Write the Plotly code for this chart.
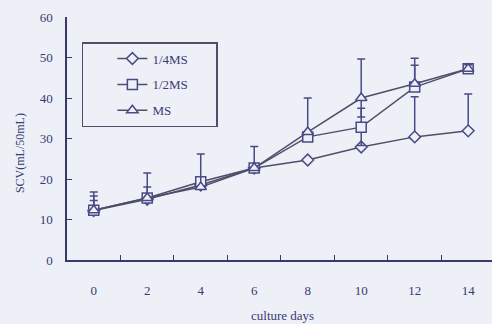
import plotly.graph_objects as go

days = [0, 2, 4, 6, 8, 10, 12, 14]
tick_labels = ["0", "2", "4", "6", "8", "10", "12", "14"]

quarter_ms = [12.2, 15.0, 18.5, 22.7, 24.7, 27.9, 30.4, 31.9]
quarter_err_up = [2.5, 0, 0, 0, 0, 0, 9.9, 9.1]
quarter_err_dn = [0, 0, 0, 0, 0, 0, 0, 0]

half_ms = [12.3, 15.3, 19.3, 22.7, 30.4, 32.8, 42.7, 47.2]
half_err_up = [3.5, 2.7, 0, 0, 0, 4.7, 5.4, 0.8]
half_err_dn = [0, 0, 0, 0, 0, 4.5, 0, 0]

full_ms = [12.3, 15.3, 18.0, 22.7, 31.6, 40.0, 43.5, 47.2]
full_err_up = [4.5, 6.2, 8.2, 5.3, 8.4, 9.6, 6.3, 1.0]
full_err_dn = [0, 0, 0, 0, 0, 4.7, 0, 0]

BG = "#eef0f8"
LINE = "#4e4e68"
EBAR = "#4a4a86"
TXT = "#3a3a70"
FONT = "Liberation Serif"
PAD = "\u00a0" * 7

fig = go.Figure()

series = [
    ("1/4MS", quarter_ms, quarter_err_up, quarter_err_dn, "diamond", 9),
    ("1/2MS", half_ms, half_err_up, half_err_dn, "square", 10),
    ("MS", full_ms, full_err_up, full_err_dn, "triangle-up", 10),
]
for name, vals, eu, ed, sym, sz in series:
    fig.add_trace(go.Scatter(
        x=days, y=vals, name=name + PAD, mode="lines+markers",
        line=dict(color=LINE, width=1.5),
        marker=dict(symbol=sym, size=sz, color=BG,
                    line=dict(color=EBAR, width=1.5)),
        error_y=dict(type="data", symmetric=False, array=eu, arrayminus=ed,
                     color=EBAR, thickness=1.5, width=4),
        legendgroup=name,
    ))

fig.update_layout(
    width=492, height=324,
    margin=dict(l=67, r=0, t=17, b=64),
    paper_bgcolor=BG, plot_bgcolor=BG,
    font=dict(family=FONT, size=13, color=TXT),
    showlegend=True,
    legend=dict(
        x=0.035, y=0.897, xanchor="left", yanchor="top",
        bgcolor=BG, bordercolor=LINE, borderwidth=1.5,
        font=dict(family=FONT, size=13, color=TXT),
        tracegroupgap=6, indentation=29,
    ),
    xaxis=dict(
        range=[-1, 14.89], tickvals=days, ticktext=tick_labels,
        ticks="", showgrid=False, zeroline=False,
        showline=True, linecolor="#3a3a6a", linewidth=1.5,
        ticklabelstandoff=18,
        minor=dict(tickvals=[1, 3, 5, 7, 9, 11, 13], ticks="inside",
                   ticklen=5, tickcolor="#3a3a6a", tickwidth=1.2),
    ),
    yaxis=dict(
        range=[0, 60], tickvals=[0, 10, 20, 30, 40, 50, 60],
        ticks="inside", ticklen=5, tickcolor="#3a3a6a", tickwidth=1.2,
        showgrid=False, zeroline=False,
        showline=True, linecolor="#3a3a6a", linewidth=1.5,
        ticklabelstandoff=10,
    ),
    annotations=[
        dict(text="culture days", xref="paper", yref="paper",
             x=0.506, y=-0.228, xanchor="center", yanchor="middle",
             showarrow=False,
             font=dict(family=FONT, size=13, color=TXT)),
        dict(text="SCV(mL/50mL)", xref="paper", yref="paper",
             x=-0.1106, y=0.44, xanchor="center", yanchor="middle",
             textangle=-90, showarrow=False,
             font=dict(family=FONT, size=12, color=TXT)),
    ],
)

fig.write_html("out.html")
